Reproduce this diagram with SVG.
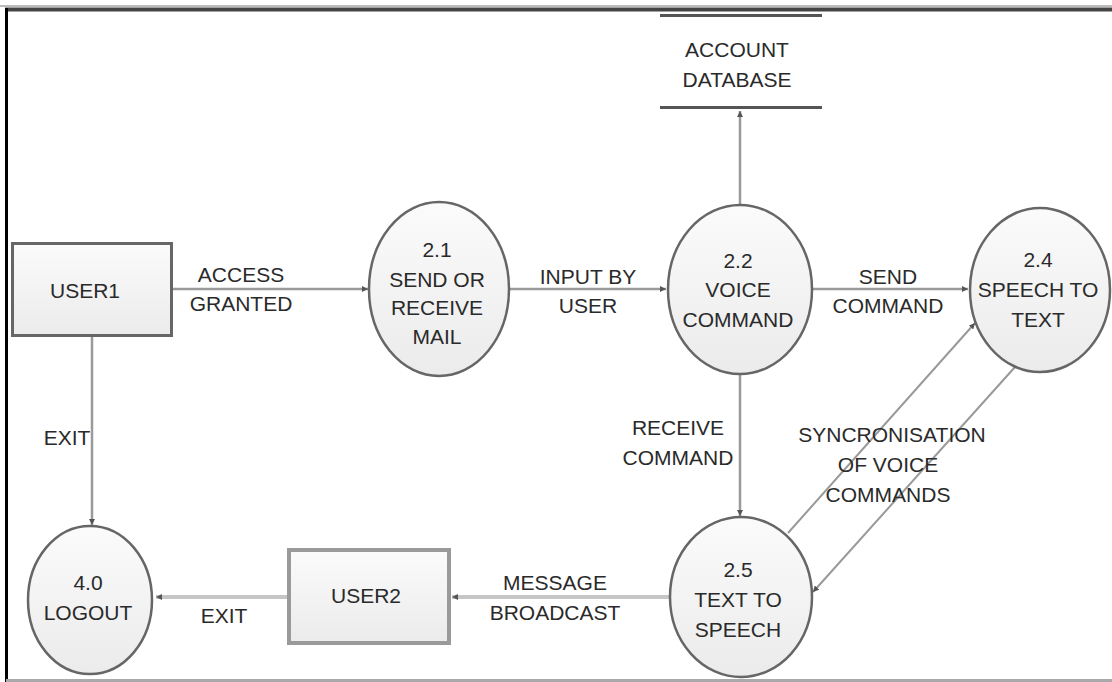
<svg xmlns="http://www.w3.org/2000/svg" width="1112" height="682" viewBox="0 0 1112 682">
<style>
text{font-family:"Liberation Sans",Arial,sans-serif;font-size:21px;fill:#2a2a2a;text-anchor:middle}
.proc{fill:url(#g);stroke:#666;stroke-width:2.5}
.ent{fill:url(#g);stroke:#666;stroke-width:3}
.ent2{fill:url(#g);stroke:#9a9a9a;stroke-width:4}
.c{fill:none;stroke:#9a9a9a;stroke-width:2.5}
.c2{fill:none;stroke:#c6c6c6;stroke-width:4}
.d{fill:none;stroke:#999;stroke-width:2}
</style>
<defs>
<linearGradient id="g" x1="0" y1="0" x2="0" y2="1">
<stop offset="0" stop-color="#fbfbfb"/>
<stop offset="1" stop-color="#ebebeb"/>
</linearGradient>
<marker id="a" viewBox="0 0 6 6" refX="6" refY="3" markerWidth="6" markerHeight="6" markerUnits="userSpaceOnUse" orient="auto">
<path d="M0,0 L6,3 L0,6 z" fill="#555"/>
</marker>
</defs>
<rect width="1112" height="682" fill="#fff"/>
<g id="frame">
<line x1="0" y1="6" x2="1112" y2="6" stroke="#bbb" stroke-width="2"/>
<line x1="5" y1="9.5" x2="1112" y2="9.5" stroke="#444" stroke-width="4"/>
<line x1="6.5" y1="8" x2="6.5" y2="682" stroke="#000" stroke-width="3"/>
<line x1="6" y1="680.5" x2="1112" y2="680.5" stroke="#aaa" stroke-width="3"/>
</g>
<g id="connectors">
<line class="c" x1="172" y1="289" x2="368" y2="289" marker-end="url(#a)"/>
<line class="c" x1="510" y1="289" x2="666" y2="289" marker-end="url(#a)"/>
<line class="c" x1="813" y1="289" x2="968" y2="289" marker-end="url(#a)"/>
<line class="c" x1="740" y1="205" x2="740" y2="111" marker-end="url(#a)"/>
<line class="c" x1="740" y1="374" x2="740" y2="516" marker-end="url(#a)"/>
<line class="d" x1="788" y1="533" x2="975" y2="323" marker-end="url(#a)"/>
<line class="d" x1="1015" y1="367" x2="813" y2="592" marker-end="url(#a)"/>
<line class="c" x1="92" y1="336" x2="92" y2="525" marker-end="url(#a)"/>
<line class="c2" x1="670" y1="597" x2="452" y2="597" marker-end="url(#a)"/>
<line class="c2" x1="289" y1="597" x2="156" y2="597" marker-end="url(#a)"/>
<text x="241" y="282">ACCESS</text>
<text x="241" y="311">GRANTED</text>
<text x="588" y="284">INPUT BY</text>
<text x="588" y="313">USER</text>
<text x="888" y="284">SEND</text>
<text x="888" y="313">COMMAND</text>
<text x="678" y="435">RECEIVE</text>
<text x="678" y="465">COMMAND</text>
<text x="892" y="442">SYNCRONISATION</text>
<text x="888" y="472">OF VOICE</text>
<text x="888" y="502">COMMANDS</text>
<text x="67" y="445">EXIT</text>
<text x="555" y="590">MESSAGE</text>
<text x="555" y="620">BROADCAST</text>
<text x="224" y="623">EXIT</text>
</g>
<g id="db">
<line x1="660" y1="15.5" x2="822" y2="15.5" stroke="#555" stroke-width="3"/>
<line x1="660" y1="107.5" x2="822" y2="107.5" stroke="#555" stroke-width="3"/>
<text x="737" y="57">ACCOUNT</text>
<text x="737" y="87">DATABASE</text>
</g>
<g id="user1">
<rect class="ent" x="12.5" y="243.5" width="159" height="92"/>
<text x="85" y="298">USER1</text>
</g>
<g id="p21">
<ellipse class="proc" cx="439" cy="289" rx="70" ry="87"/>
<text x="437" y="257">2.1</text>
<text x="437" y="287">SEND OR</text>
<text x="437" y="315">RECEIVE</text>
<text x="437" y="344">MAIL</text>
</g>
<g id="p22">
<ellipse class="proc" cx="740" cy="289.5" rx="72" ry="84.5"/>
<text x="738" y="268">2.2</text>
<text x="738" y="297">VOICE</text>
<text x="738" y="327">COMMAND</text>
</g>
<g id="p24">
<ellipse class="proc" cx="1040" cy="290" rx="70" ry="82"/>
<text x="1038" y="267">2.4</text>
<text x="1038" y="297">SPEECH TO</text>
<text x="1038" y="327">TEXT</text>
</g>
<g id="p25">
<ellipse class="proc" cx="741" cy="597" rx="71" ry="80"/>
<text x="738" y="577">2.5</text>
<text x="738" y="607">TEXT TO</text>
<text x="738" y="637">SPEECH</text>
</g>
<g id="p40">
<ellipse class="proc" cx="90" cy="600" rx="62" ry="74"/>
<text x="88" y="590">4.0</text>
<text x="88" y="620">LOGOUT</text>
</g>
<g id="user2">
<rect class="ent2" x="289" y="550" width="160" height="93"/>
<text x="366" y="603">USER2</text>
</g>
</svg>
